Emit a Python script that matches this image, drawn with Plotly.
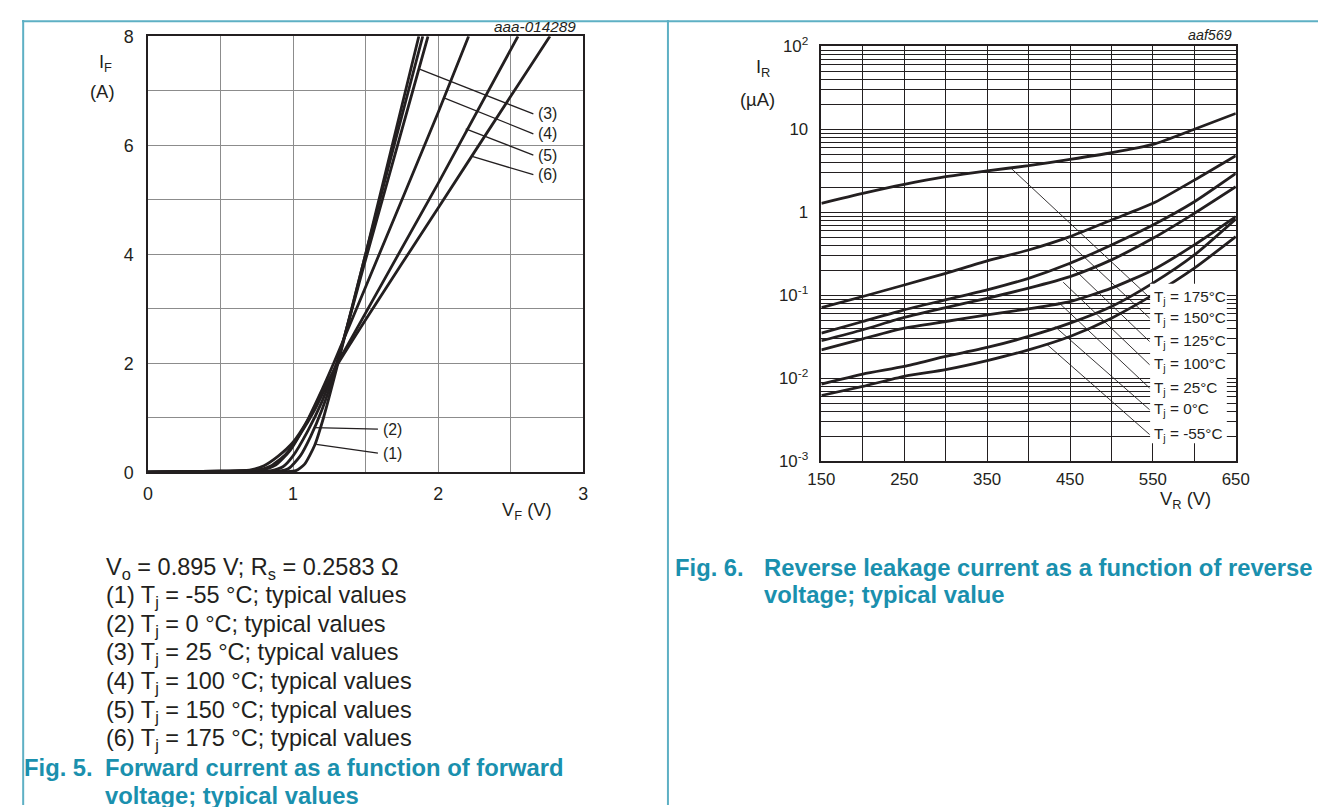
import plotly.graph_objects as go
import numpy as np

W, H = 1326, 807
FONT = "Liberation Sans, Arial, sans-serif"
INK = "#231f20"
TEAL = "#1a90ae"
BORDER = "#5eb0c4"

# the page is photographed with a small offset/scale; positions below are
# given in target-picture pixels and converted here
AX, BX = 0.9826, 19.6
AY, BY = 0.975, 18.7
FS = 1 / 0.979


def px(x):
    return min(max((x - BX) / AX / W, 0.0), 1.0)


def py(y):
    return min(max(1 - (y - BY) / AY / H, 0.0), 1.0)


def fs(s):
    return s * FS


# ---------------- Fig. 5 data: forward current vs forward voltage ----------------
vf_1 = [0.0, 0.5, 0.95, 1.02, 1.08, 1.15, 1.21, 1.30, 1.50, 1.867]
if_1 = [0.0, 0.005, 0.01, 0.03, 0.15, 0.50, 1.00, 1.90, 4.00, 8.0]
vf_2 = [0.0, 0.5, 0.90, 0.97, 1.05, 1.12, 1.20, 1.30, 1.50, 1.894]
if_2 = [0.0, 0.01, 0.02, 0.07, 0.30, 0.65, 1.15, 1.95, 4.00, 8.0]
vf_3 = [0.0, 0.5, 0.85, 0.93, 1.00, 1.10, 1.20, 1.30, 1.50, 1.93]
if_3 = [0.0, 0.015, 0.03, 0.10, 0.30, 0.75, 1.30, 2.00, 3.90, 8.0]
vf_4 = [0.0, 0.5, 0.78, 0.88, 0.98, 1.08, 1.18, 1.28, 1.50, 2.00, 2.21]
if_4 = [0.0, 0.02, 0.04, 0.13, 0.40, 0.85, 1.40, 2.00, 3.40, 6.60, 8.0]
vf_5 = [0.0, 0.5, 0.75, 0.85, 0.95, 1.05, 1.15, 1.25, 1.30, 2.00, 2.55]
if_5 = [0.0, 0.02, 0.04, 0.12, 0.33, 0.70, 1.15, 1.70, 1.97, 5.30, 8.0]
vf_6 = [0.0, 0.5, 0.70, 0.80, 0.90, 1.00, 1.10, 1.20, 1.30, 1.50, 2.00, 2.50, 2.77]
if_6 = [0.0, 0.02, 0.04, 0.12, 0.30, 0.55, 0.95, 1.45, 1.95, 2.80, 4.85, 6.90, 8.0]

fwd_labels = ["(1)", "(2)", "(3)", "(4)", "(5)", "(6)"]
fwd_lead_x0 = [1.16, 1.147, 1.867, 2.04, 2.19, 2.24]
fwd_lead_y0 = [0.51, 0.82, 7.40, 6.87, 6.30, 5.79]
fwd_lead_x1 = [1.585, 1.585, 2.656, 2.656, 2.656, 2.656]
fwd_lead_y1 = [0.35, 0.79, 6.575, 6.21, 5.82, 5.46]

fig5_notes = [
    "V<sub>o</sub> = 0.895 V; R<sub>s</sub> = 0.2583 Ω",
    "(1) T<sub>j</sub> = -55 °C; typical values",
    "(2) T<sub>j</sub> = 0 °C; typical values",
    "(3) T<sub>j</sub> = 25 °C; typical values",
    "(4) T<sub>j</sub> = 100 °C; typical values",
    "(5) T<sub>j</sub> = 150 °C; typical values",
    "(6) T<sub>j</sub> = 175 °C; typical values",
]

# ---------------- Fig. 6 data: reverse leakage current vs reverse voltage ----------------
vr = [150, 200, 250, 300, 350, 400, 450, 500, 550, 600, 650]
ir_175 = [1.28, 1.69, 2.17, 2.68, 3.16, 3.64, 4.33, 5.21, 6.56, 10.0, 15.5]
ir_150 = [0.0711, 0.0966, 0.133, 0.184, 0.259, 0.351, 0.509, 0.807, 1.28, 2.44, 4.80]
ir_125 = [0.035, 0.0483, 0.0667, 0.0881, 0.116, 0.160, 0.243, 0.404, 0.703, 1.34, 2.94]
ir_100 = [0.0283, 0.0384, 0.054, 0.071, 0.092, 0.122, 0.168, 0.267, 0.485, 0.97, 2.03]
ir_25 = [0.022, 0.0299, 0.0402, 0.0483, 0.058, 0.0686, 0.084, 0.122, 0.202, 0.404, 0.885]
ir_0 = [0.0085, 0.01124, 0.0139, 0.0183, 0.0235, 0.0319, 0.0461, 0.0731, 0.140, 0.306, 0.83]
ir_m55 = [0.0062, 0.00798, 0.01054, 0.0127, 0.0163, 0.022, 0.0319, 0.053, 0.101, 0.212, 0.509]

rev_labels = ["T<sub>j</sub> = 175°C", "T<sub>j</sub> = 150°C", "T<sub>j</sub> = 125°C",
              "T<sub>j</sub> = 100°C", "T<sub>j</sub> = 25°C", "T<sub>j</sub> = 0°C",
              "T<sub>j</sub> = -55°C"]
rev_lead_x0 = [379, 445, 448.6, 441.8, 436.3, 431.7, 421.7]
rev_lead_y0 = [3.38, 0.464, 0.2366, 0.1435, 0.0818, 0.042, 0.0258]
rev_lead_x1 = [546, 546, 546, 546, 546, 546, 546]
rev_lead_y1 = [0.094, 0.053, 0.0277, 0.01455, 0.00762, 0.00418, 0.0021]

ir_tickvals = [0.001, 0.01, 0.1, 1, 10, 100]
ir_ticktext = ["10<sup>-3</sup>", "10<sup>-2</sup>", "10<sup>-1</sup>", "1", "10", "10<sup>2</sup>"]

# ---------------- figure ----------------
fig = go.Figure()

curve_line = dict(color=INK, width=2.8, shape="spline", smoothing=0.6)
for vx, iy in [(vf_1, if_1), (vf_2, if_2), (vf_3, if_3), (vf_4, if_4), (vf_5, if_5), (vf_6, if_6)]:
    fig.add_trace(go.Scatter(x=vx, y=iy, mode="lines", line=curve_line,
                             xaxis="x", yaxis="y", showlegend=False, hoverinfo="skip"))

for i in range(len(fwd_labels)):
    fig.add_trace(go.Scatter(x=[fwd_lead_x0[i], fwd_lead_x1[i]], y=[fwd_lead_y0[i], fwd_lead_y1[i]],
                             mode="lines", line=dict(color=INK, width=1.3),
                             xaxis="x", yaxis="y", showlegend=False, hoverinfo="skip"))

for iy in [ir_175, ir_150, ir_125, ir_100, ir_25, ir_0, ir_m55]:
    fig.add_trace(go.Scatter(x=vr, y=iy, mode="lines", line=curve_line,
                             xaxis="x2", yaxis="y2", showlegend=False, hoverinfo="skip"))

for i in range(len(rev_labels)):
    fig.add_trace(go.Scatter(x=[rev_lead_x0[i], rev_lead_x1[i]], y=[rev_lead_y0[i], rev_lead_y1[i]],
                             mode="lines", line=dict(color=INK, width=0.9),
                             xaxis="x2", yaxis="y2", showlegend=False, hoverinfo="skip"))

annotations = []
for i, t in enumerate(fwd_labels):
    annotations.append(dict(x=fwd_lead_x1[i] + 0.02, y=fwd_lead_y1[i], xref="x", yref="y", text=t,
                            showarrow=False, xanchor="left", yanchor="middle",
                            font=dict(family=FONT, size=fs(15.5), color=INK)))
for i, t in enumerate(rev_labels):
    annotations.append(dict(x=rev_lead_x1[i] + 3, y=np.log10(rev_lead_y1[i]), xref="x2", yref="y2", text=t,
                            showarrow=False, xanchor="left", yanchor="middle",
                            font=dict(family=FONT, size=fs(15), color=INK)))


def txt(x, y, text, size=17, color=INK, anchor="left", bold=False, italic=False, valign="middle"):
    s = text
    if bold:
        s = "<b>" + s + "</b>"
    if italic:
        s = "<i>" + s + "</i>"
    annotations.append(dict(x=px(x), y=py(y), xref="paper", yref="paper", text=s, showarrow=False,
                            xanchor=anchor, yanchor=valign, font=dict(family=FONT, size=fs(size), color=color)))


# axis titles and drawing codes
txt(103, 62, "I<sub>F</sub>", size=18, anchor="center")
txt(100, 90, "(A)", size=18, anchor="center")
txt(527, 511, "V<sub>F</sub> (V)", size=18, anchor="center")
txt(578, 25, "aaa-014289", size=15, anchor="right", italic=True)

txt(763, 67, "I<sub>R</sub>", size=18, anchor="center")
txt(758, 98, "(µA)", size=18, anchor="center")
txt(1188, 500, "V<sub>R</sub> (V)", size=18, anchor="center")
txt(1236, 34, "aaf569", size=14, anchor="right", italic=True)

# Fig. 5 notes
for k, line in enumerate(fig5_notes):
    txt(102, 568 + k * 28.7, line, size=23)

# captions
txt(13, 768, "Fig. 5.", size=23.3, color=TEAL, bold=True)
txt(101, 768, "Forward current as a function of forward", size=23.3, color=TEAL, bold=True)
txt(101, 796, "voltage; typical values", size=23.3, color=TEAL, bold=True)
txt(673, 567, "Fig. 6.", size=23.3, color=TEAL, bold=True)
txt(762, 567, "Reverse leakage current as a function of reverse", size=23.3, color=TEAL, bold=True)
txt(762, 595, "voltage; typical value", size=23.3, color=TEAL, bold=True)

shapes = [
    # page borders
    dict(type="line", xref="paper", yref="paper", x0=0, x1=1, y0=1 - 1.2 / H, y1=1 - 1.2 / H,
         line=dict(color=BORDER, width=2)),
    dict(type="line", xref="paper", yref="paper", x0=1.2 / W, x1=1.2 / W, y0=1, y1=0,
         line=dict(color=BORDER, width=2)),
    dict(type="line", xref="paper", yref="paper", x0=px(668), x1=px(668), y0=1, y1=0,
         line=dict(color=BORDER, width=2)),
    # white box behind Fig. 6 labels
    dict(type="rect", xref="paper", yref="paper", x0=px(1152), x1=px(1229), y0=py(443), y1=py(283),
         fillcolor="white", line=dict(width=0), layer="above"),
]

minor_log = [m * 10.0 ** d for d in range(-3, 2) for m in range(2, 10)]

fig.update_layout(
    width=W, height=H,
    margin=dict(l=0, r=0, t=0, b=0),
    paper_bgcolor="white", plot_bgcolor="white",
    showlegend=False,
    font=dict(family=FONT, color=INK),
    annotations=annotations,
    shapes=shapes,
    xaxis=dict(domain=[px(146), px(583)], range=[0, 3], anchor="y",
               showline=True, mirror=True, linecolor=INK, linewidth=1.5,
               showgrid=True, gridcolor="#8c8c8c", gridwidth=1.3, zeroline=False,
               tick0=0, dtick=1,
               minor=dict(dtick=0.5, showgrid=True, gridcolor="#8c8c8c", gridwidth=1.3),
               ticks="outside", ticklen=5, tickcolor="rgba(0,0,0,0)",
               tickfont=dict(family=FONT, size=fs(17.5), color=INK)),
    yaxis=dict(domain=[py(472), py(35)], range=[0, 8], anchor="x",
               showline=True, mirror=True, linecolor=INK, linewidth=1.5,
               showgrid=True, gridcolor="#8c8c8c", gridwidth=1.3, zeroline=False,
               tick0=0, dtick=2,
               minor=dict(dtick=1, showgrid=True, gridcolor="#8c8c8c", gridwidth=1.3),
               ticks="outside", ticklen=9, tickcolor="rgba(0,0,0,0)",
               tickfont=dict(family=FONT, size=fs(17.5), color=INK)),
    xaxis2=dict(domain=[px(822), px(1238)], range=[150, 650], anchor="y2",
                showline=True, mirror=True, linecolor=INK, linewidth=1.5,
                showgrid=True, gridcolor=INK, gridwidth=1, zeroline=False,
                tick0=150, dtick=100,
                minor=dict(dtick=50, showgrid=True, gridcolor=INK, gridwidth=1),
                ticks="outside", ticklen=2, tickcolor="rgba(0,0,0,0)",
                tickfont=dict(family=FONT, size=fs(16.5), color=INK)),
    yaxis2=dict(domain=[py(461), py(45)], type="log", range=[-3, 2], anchor="x2",
                showline=True, mirror=True, linecolor=INK, linewidth=1.5,
                showgrid=True, gridcolor=INK, gridwidth=1.1, zeroline=False,
                tickmode="array", tickvals=ir_tickvals, ticktext=ir_ticktext,
                minor=dict(tickmode="array", tickvals=minor_log, showgrid=True, gridcolor=INK, gridwidth=0.8),
                ticks="outside", ticklen=8, tickcolor="rgba(0,0,0,0)",
                tickfont=dict(family=FONT, size=fs(16.5), color=INK)),
)

fig.write_html("out.html")
